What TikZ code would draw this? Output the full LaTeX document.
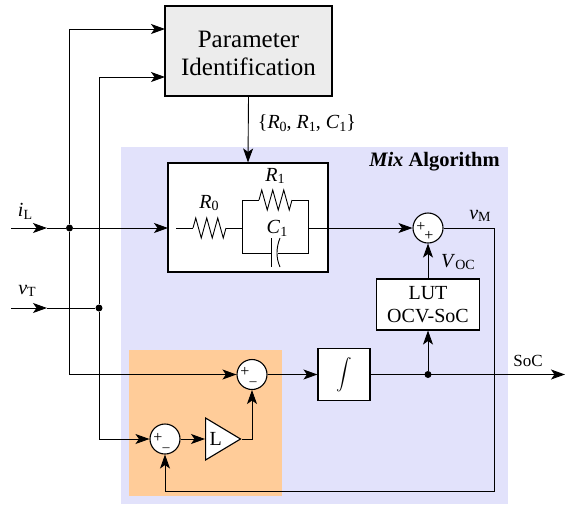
\documentclass[tikz,border=0pt]{standalone}
\usepackage{fontspec}
\setmainfont{Liberation Serif}
\usetikzlibrary{arrows.meta,shapes.geometric,decorations.pathmorphing}
\newcommand{\fs}[1]{\fontsize{#1}{1.15\dimexpr #1pt\relax}\selectfont}
\newcommand{\subtxt}[2]{\textit{#1}\raisebox{-.3ex}{\fs{14}#2}}
\begin{document}
\begin{tikzpicture}[x=1pt,y=-1pt,>={Stealth[length=14pt,width=10pt,inset=3.5pt]},line width=0.9pt]
\tikzstyle{blockbox}=[rectangle,draw,line width=1.1pt,fill=white,inner sep=0pt,align=center,font=\fs{20}]
\tikzstyle{sumnode}=[circle,draw,line width=1.1pt,fill=white,minimum size=30pt,inner sep=0pt]
\tikzstyle{signtxt}=[inner sep=0pt,font=\fs{16}]
\tikzstyle{minustxt}=[inner sep=0pt,font=\fs{14}]
\tikzstyle{dotnode}=[circle,fill=black,minimum size=7pt,inner sep=0pt]
\tikzstyle{txt}=[inner sep=0pt,font=\fs{20}]
\tikzstyle{resistor}=[decorate,decoration={zigzag,segment length=11pt,amplitude=10pt}]
\useasboundingbox (0,0) rectangle (565,504);

\fill[fill={rgb,255:red,226;green,226;blue,251}] (121,147) rectangle (508,504);
\fill[fill={rgb,255:red,255;green,204;blue,153}] (129,350) rectangle (282,496);
\node[txt,font=\fs{20.5}\bfseries] (mixtxt) at (434.5,162) {\textit{Mix} Algorithm};

\node[blockbox,fill=gray!15,minimum width=167pt,minimum height=90pt,font=\fs{25}] (param) at (248.5,51) {\rule{0pt}{21pt}Parameter\\Identification};
\node[blockbox,minimum width=160pt,minimum height=109pt] (rc) at (248,217.5) {};
\node[blockbox,minimum width=103pt,minimum height=51pt] (lut) at (428,304.5) {LUT\\OCV-SoC};
\node[blockbox,minimum width=52pt,minimum height=52pt] (integ) at (344,374.5) {\scalebox{1.55}{$\displaystyle\int$}};
\node[sumnode] (summ) at (428,228) {};
\node[sumnode] (sumb) at (252,374.5) {};
\node[sumnode] (suma) at (165,439) {};
\node[isosceles triangle,isosceles triangle stretches,draw,line width=1.1pt,fill=white,minimum height=35pt,minimum width=42pt,inner sep=0pt,anchor=lower side,font=\fs{20}] (gain) at (205,439) {L};

\node[signtxt] (summp) at (421,227) {+};
\node[signtxt] (summq) at (429,236) {+};
\node[signtxt] (sumbp) at (245,372) {+};
\node[minustxt] (sumbm) at (253,384) {–};
\node[signtxt] (sumap) at (158,438) {+};
\node[minustxt] (sumam) at (166,450) {–};

\node[dotnode] (dotil) at (69.5,228) {};
\node[dotnode] (dotvt) at (99,308) {};
\node[dotnode] (dotsoc) at (428,374.5) {};
\coordinate (inil) at (11,228);
\coordinate (tipil) at (47,228);
\coordinate (invt) at (11,308);
\coordinate (tipvt) at (47,308);
\coordinate (parama) at (165,29);
\coordinate (paramb) at (165,77);
\coordinate (rcin) at (168,228);
\coordinate (rcout) at (328,228);
\coordinate (fb) at (494,491);
\coordinate (soc) at (565,374.5);

\draw[->] (inil) -- (tipil);
\draw (tipil) -- (dotil);
\draw[->] (dotil) -- (rcin);
\draw[->] (invt) -- (tipvt);
\draw (tipvt) -- (dotvt);
\draw[->] (dotil) |- (parama);
\draw[->] (dotvt) |- (paramb);
\draw[->] (dotil) |- (sumb.west);
\draw[->] (dotvt) |- (suma.west);
\draw[->] (param.south) -- (rc.north);
\draw[->] (rcout) -- (summ.west);
\draw[->] (lut.north) -- (summ.south);
\draw[->] (dotsoc) -- (lut.south);
\draw[->] (sumb.east) -- (integ.west);
\draw[->] (integ.east) -- (soc);
\draw[->] (suma.east) -- (gain.lower side);
\draw[->] (gain.apex) -| (sumb.south);
\draw[->] (summ.east) -| (fb) -| (suma.south);

% RC circuit
\coordinate (ra) at (176,228);
\coordinate (rb) at (193,228);
\coordinate (rc0) at (226,228);
\coordinate (pl) at (242,228);
\coordinate (pr) at (308,228);
\draw (ra) -- (rb);
\draw[resistor] (rb) -- (rc0);
\draw (rc0) -- (pl);
\draw (pl) |- (259,200);
\draw[resistor] (259,200) -- (292,200);
\draw (292,200) -| (pr);
\draw (pl) |- (271.5,253);
\draw (271.5,238) -- (271.5,267);
\draw (280,238) .. controls (276,248) and (276,258) .. (280,267);
\draw (277.5,253) -| (pr);
\draw (pr) -- (rcout);

\node[txt] (lbrz) at (209,203) {\subtxt{R}{0}};
\node[txt] (lbro) at (275,176) {\subtxt{R}{1}};
\node[txt] (lbco) at (277,228) {\subtxt{C}{1}};
\node[txt,font=\fs{20}] (lbset) at (307,123) {\{\textit{R}\raisebox{-.3ex}{\fs{14}0}, \textit{R}\raisebox{-.3ex}{\fs{14}1}, \textit{C}\raisebox{-.3ex}{\fs{14}1}\}};
\node[txt] (lbil) at (25,211) {\subtxt{i}{L}};
\node[txt] (lbvt) at (27,291) {\subtxt{v}{T}};
\node[txt] (lbvm) at (480,216) {\subtxt{v}{M}};
\node[txt] (lbvoc) at (458,262) {\subtxt{V}{OC}};
\node[txt,font=\fs{17}] (lbsoc) at (528,361) {SoC};
\end{tikzpicture}
\end{document}
